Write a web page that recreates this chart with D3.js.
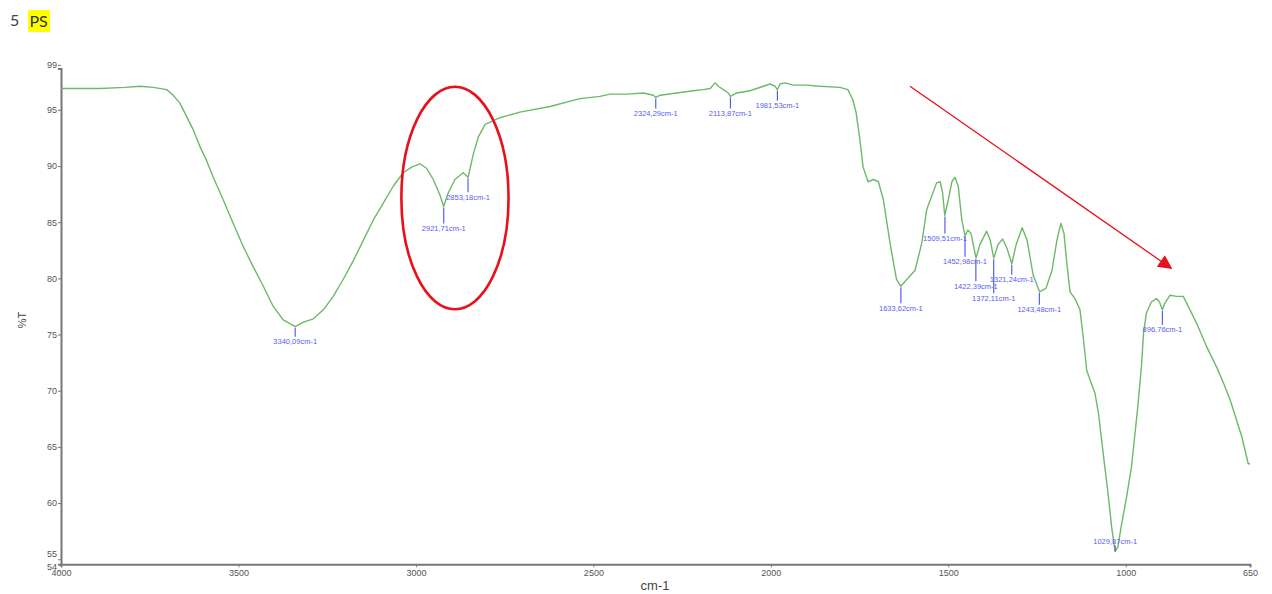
<!DOCTYPE html>
<html>
<head>
  <meta charset="utf-8">
  <title>5 PS</title>
  <script src="https://cdn.jsdelivr.net/npm/d3@7"></script>
  <style>
    body { margin: 0; background: #fff; }
    svg { display: block; }
  </style>
</head>
<body>
  <svg width="1272" height="594"></svg>
  <script>
    // spectrum (cm-1, %T)
    var wavenumber = [4000,3890,3820,3777,3740,3702,3684,3665,3646,3627,
      3608,3590,3571,3543,3515,3486,3458,3430,3402,3374,
      3340,3317,3289,3261,3233,3205,3176,3148,3120,3092,
      3064,3036,3012,2989,2970,2951,2932,2922,2909,2890,
      2867,2853,2838,2824,2805,2763,2707,2622,2538,2481,
      2453,2406,2359,2331,2324,2312,2265,2219,2190,2171,
      2157,2148,2134,2120,2114,2096,2059,2021,2002,1988,
      1982,1974,1960,1937,1899,1862,1805,1783,1769,1760,
      1749,1740,1726,1711,1697,1683,1664,1646,1634,1617,
      1594,1575,1561,1547,1533,1523,1516,1510,1500,1490,
      1481,1472,1462,1453,1445,1436,1422,1411,1392,1382,
      1372,1360,1347,1335,1321,1309,1292,1278,1261,1243,
      1225,1208,1194,1183,1174,1167,1157,1143,1129,1120,
      1110,1101,1087,1077,1068,1059,1049,1040,1032,1030,
      1022,1013,999,984,975,966,956,950,942,928,
      914,905,897,890,875,857,838,819,796,772,
      744,725,706,688,673,664,655,650];
    var transmittance = [96.9,96.9,97.0,97.1,97.0,96.8,96.3,95.6,94.4,93.2,
      91.7,90.5,89.0,87.0,84.9,82.8,81.0,79.3,77.5,76.3,
      75.7,76.1,76.4,77.2,78.4,79.9,81.6,83.4,85.2,86.7,
      88.2,89.4,89.9,90.2,89.8,88.8,87.4,86.4,87.6,88.8,
      89.4,89.0,91.1,92.6,93.7,94.3,94.8,95.3,96.0,96.2,
      96.4,96.4,96.5,96.3,96.1,96.3,96.5,96.7,96.8,96.9,
      97.4,97.1,96.8,96.5,96.2,96.5,96.7,97.1,97.3,97.1,
      96.8,97.3,97.4,97.2,97.2,97.1,97.0,96.8,95.9,94.8,
      92.3,89.9,88.6,88.8,88.6,87.0,83.1,79.9,79.3,79.9,
      80.7,83.1,86.1,87.3,88.5,88.6,87.6,85.6,87.0,88.6,
      89.0,88.2,85.2,83.8,84.3,84.0,81.8,83.0,84.2,83.4,
      81.8,83.0,83.5,82.7,81.3,83.0,84.5,83.4,80.3,78.8,
      79.1,80.7,83.4,84.9,84.0,81.6,78.8,78.2,77.2,74.8,
      71.8,71.0,69.8,68.0,65.6,63.2,60.6,57.9,56.1,55.7,
      56.1,57.9,60.3,63.2,65.9,68.6,72.1,75.1,76.9,77.9,
      78.2,77.9,77.2,77.8,78.5,78.4,78.4,77.2,75.7,73.9,
      72.1,70.7,69.2,67.4,65.9,64.7,63.5,63.5];

    // marked peaks
    var peakWn = [3340.09,2921.71,2853.18,2324.29,2113.87,1981.53,1633.62,1509.51,1452.98,1422.39,1372.11,1321.24,1243.48,1029.87,896.76];
    var peakT = [75.7,86.4,89.0,96.1,96.2,96.8,79.3,85.6,83.8,81.8,81.8,81.3,78.8,55.6,77.2];
    var peakLabels = ["3340,09cm-1","2921,71cm-1","2853,18cm-1","2324,29cm-1","2113,87cm-1","1981,53cm-1","1633,62cm-1","1509,51cm-1","1452,98cm-1","1422,39cm-1","1372,11cm-1","1321,24cm-1","1243,48cm-1","1029,87cm-1","896,76cm-1"];
    // leader length in px (layout only; negative = label above)
    var leaderPx = [10,17,15,11,12,11,17,18,21,23,35,11,13,-7,15];

    var xTicks = [4000,3500,3000,2500,2000,1500,1000,650];
    var yTicks = [55,60,65,70,75,80,85,90,95];
    var yEnds = [54,99];

    // annotations in data units: ellipse [cx, cy, rx(cm-1), ry(%T)], arrow [wn0, T0, wn1, T1]
    var ellipseMark = [2890, 87.15, 151, 9.9];
    var arrowMark = [1608, 97.1, 872, 80.9];

    var svg = d3.select("svg");
    var xMin = 650, xMax = 4000, yLo = 54.55, yHi = 98.68;
    var x = d3.scaleLinear().domain([xMax, xMin]).range([61, 1250]);
    var y = d3.scaleLinear().domain([yLo, yHi]).range([564.3, 68.5]);

    // title
    svg.append("text").attr("x", 10).attr("y", 26)
      .style("font-family", "Lato, 'Open Sans', sans-serif").style("font-size", "16px")
      .attr("fill", "#444").text("5");
    svg.append("rect").attr("x", 28).attr("y", 10).attr("width", 22).attr("height", 22).attr("fill", "#ffff00");
    svg.append("text").attr("x", 29.5).attr("y", 27)
      .style("font-family", "Lato, 'Open Sans', sans-serif").style("font-size", "16px")
      .attr("fill", "#333").text("PS");

    var tickFont = "'Liberation Sans', Arial, sans-serif";

    // x axis
    var xAxis = svg.append("g").attr("transform", "translate(0,564.3)")
      .call(d3.axisBottom(x).tickValues(xTicks).tickSize(3).tickFormat(d3.format("d")));
    xAxis.select(".domain").attr("stroke", "#777").attr("stroke-width", 2);
    xAxis.selectAll(".tick line").attr("stroke", "#777");
    xAxis.selectAll("text").attr("fill", "#555").attr("dy", "0.6em")
      .style("font-family", tickFont).style("font-size", "9px");

    // y axis
    var yAxis = svg.append("g").attr("transform", "translate(61,0)")
      .call(d3.axisLeft(y).tickValues(yTicks.concat(yEnds)).tickSize(3));
    yAxis.select(".domain").attr("stroke", "#777").attr("stroke-width", 2);
    yAxis.selectAll(".tick line").attr("stroke", "#777");
    yAxis.selectAll("text").attr("fill", "#555").attr("x", -4)
      .style("font-family", tickFont).style("font-size", "9px")
      .attr("dy", function (d) { return d === 55 ? "-0.25em" : d === 54 ? "-0.1em" : "0.32em"; });

    svg.append("text").attr("x", 655).attr("y", 590).attr("text-anchor", "middle")
      .style("font-family", tickFont).style("font-size", "13px").attr("fill", "#444").text("cm-1");
    svg.append("text").attr("transform", "translate(26,320) rotate(-90)").attr("text-anchor", "middle")
      .style("font-family", tickFont).style("font-size", "11px").attr("fill", "#444").text("%T");

    // spectrum
    var pts = wavenumber.map(function (w, i) { return [w, transmittance[i]]; });
    var line = d3.line().x(function (d) { return x(d[0]); }).y(function (d) { return y(d[1]); });
    svg.append("path").datum(pts)
      .attr("fill", "none").attr("stroke", "#6fb86a").attr("stroke-width", 1.4)
      .attr("stroke-linejoin", "round").attr("d", line);

    // peak markers
    var peaks = svg.append("g");
    peakWn.forEach(function (w, i) {
      var px = x(w), py = y(peakT[i]), len = leaderPx[i];
      peaks.append("line").attr("x1", px).attr("x2", px)
        .attr("y1", py + (len > 0 ? 1 : -1)).attr("y2", py + len)
        .attr("stroke", "#5a5cf0").attr("stroke-width", 1.2);
      peaks.append("text").attr("x", px).attr("y", py + len + (len > 0 ? 7.5 : -2))
        .attr("text-anchor", "middle").attr("fill", "#5a5cf0")
        .style("font-family", tickFont).style("font-size", "7.5px")
        .text(peakLabels[i]);
    });

    // red ellipse
    svg.append("ellipse")
      .attr("cx", x(ellipseMark[0])).attr("cy", y(ellipseMark[1]))
      .attr("rx", Math.abs(x(ellipseMark[0] - ellipseMark[2]) - x(ellipseMark[0])))
      .attr("ry", Math.abs(y(ellipseMark[1] + ellipseMark[3]) - y(ellipseMark[1])))
      .attr("fill", "none").attr("stroke", "#e8101a").attr("stroke-width", 2.6);

    // red arrow
    svg.append("defs").append("marker").attr("id", "head")
      .attr("viewBox", "0 0 10 10").attr("refX", 9).attr("refY", 5)
      .attr("markerWidth", 16).attr("markerHeight", 14).attr("markerUnits", "userSpaceOnUse")
      .attr("orient", "auto")
      .append("path").attr("d", "M0,0L10,5L0,10Z").attr("fill", "#e8101a");
    svg.append("line")
      .attr("x1", x(arrowMark[0])).attr("y1", y(arrowMark[1]))
      .attr("x2", x(arrowMark[2])).attr("y2", y(arrowMark[3]))
      .attr("stroke", "#e8101a").attr("stroke-width", 1.3).attr("marker-end", "url(#head)");
  </script>
</body>
</html>
